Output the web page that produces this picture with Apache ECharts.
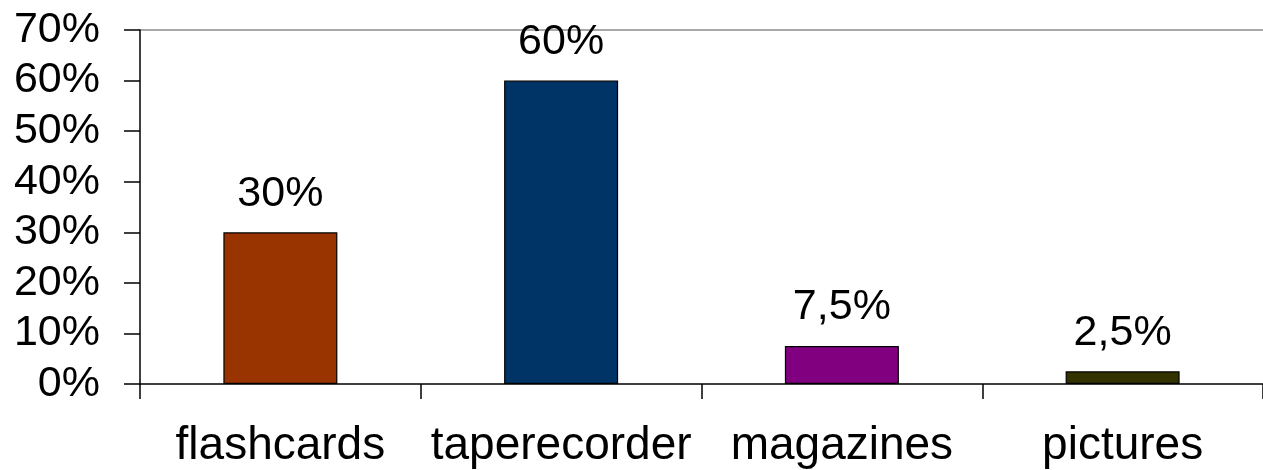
<!DOCTYPE html>
<html>
<head>
<meta charset="utf-8">
<style>
  html, body { margin: 0; padding: 0; background: #fff; }
  #chart { width: 1263px; height: 470px; }
</style>
<script src="https://cdn.jsdelivr.net/npm/echarts@6/dist/echarts.min.js"></script>
</head>
<body>
<div id="chart"></div>
<script>
const categories = ['flashcards', 'taperecorder', 'magazines', 'pictures'];
const values = [30, 60, 7.5, 2.5];
const barColors = ['#993300', '#003366', '#800080', '#333300'];
const yTicks = [0, 10, 20, 30, 40, 50, 60, 70];

const FONT = "'Liberation Sans', Arial, sans-serif";
const chart = echarts.init(document.getElementById('chart'), null, { renderer: 'canvas' });

const splitColors = yTicks.map((t, i) => i === yTicks.length - 1 ? '#8c8c8c' : 'rgba(0,0,0,0)');

chart.setOption({
  animation: false,
  backgroundColor: '#ffffff',
  grid: { left: 140, top: 30, width: 1128, bottom: 86, containLabel: false },
  xAxis: {
    type: 'category',
    data: categories,
    boundaryGap: true,
    axisLine: { show: true, lineStyle: { color: '#000', width: 1.5 } },
    axisTick: { show: true, interval: 0, length: 15, lineStyle: { color: '#000', width: 1.5 } },
    axisLabel: { interval: 0, hideOverlap: false, color: '#000', fontFamily: FONT, fontSize: 46, margin: 39 },
    splitLine: { show: false }
  },
  yAxis: {
    type: 'value',
    min: yTicks[0],
    max: yTicks[yTicks.length - 1],
    interval: 10,
    axisLine: { show: true, lineStyle: { color: '#000', width: 1.5 } },
    axisTick: { show: true, length: 16, lineStyle: { color: '#000', width: 1.5 } },
    axisLabel: { color: '#000', fontFamily: FONT, fontSize: 43, margin: 40, formatter: '{value}%' },
    splitLine: { show: true, lineStyle: { color: splitColors, width: 1.5 } }
  },
  series: [{
    type: 'bar',
    data: values.map((v, i) => ({ value: v, itemStyle: { color: barColors[i] } })),
    barWidth: 114,
    itemStyle: { borderColor: '#000', borderWidth: 1.2 },
    label: {
      show: true,
      position: 'top',
      distance: 17,
      color: '#000',
      fontFamily: FONT,
      fontSize: 43,
      formatter: p => String(p.value).replace('.', ',') + '%'
    }
  }]
});
</script>
</body>
</html>
